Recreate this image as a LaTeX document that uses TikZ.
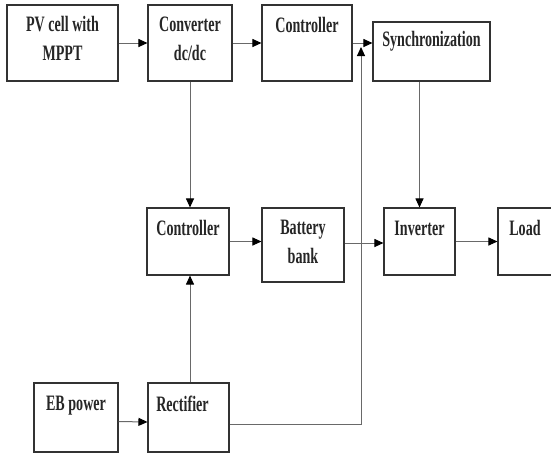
\documentclass[tikz,border=0pt]{standalone}
\usepackage{fontspec}
\setmainfont{Liberation Serif}[FakeStretch=0.64]
\usetikzlibrary{arrows.meta}
\definecolor{edgeGray}{RGB}{50, 50, 50}
\definecolor{wireGray}{RGB}{105, 105, 105}

\tikzset{
  blk/.style={draw=edgeGray, line width=1.1pt, rectangle, inner sep=0pt},
  lbl/.style={anchor=north, inner sep=0pt, align=center, yshift=-13pt,
    font=\fontsize{22}{29}\selectfont\bfseries, text=black!85},
  wire/.style={draw=wireGray, line width=1pt,
    -{Triangle[length=9pt,width=8pt,color=black]}},
}

\begin{document}
\begin{tikzpicture}[x=1pt, y=-1pt]
        \clip (0,0) rectangle (551,456);
        \fill[white] (0,0) rectangle (551,456);
        % top row
        \node[blk, minimum width=111, minimum height=76] (pv) at (62.5,43) {};
        \node[blk, minimum width=84, minimum height=76] (conv) at (190,43) {};
        \node[blk, minimum width=90, minimum height=76] (ctrlA) at (307,43) {};
        \node[blk, minimum width=117, minimum height=59] (sync) at (431.5,51.5) {};
        % middle row
        \node[blk, minimum width=82, minimum height=67] (ctrlB) at (188,241.5) {};
        \node[blk, minimum width=82, minimum height=74] (batt) at (303,245) {};
        \node[blk, minimum width=71, minimum height=67] (inv) at (419.5,241.5) {};
        \node[blk, minimum width=58, minimum height=67] (load) at (527,241.5) {};
        % bottom row
        \node[blk, minimum width=84, minimum height=69] (eb) at (76,417.5) {};
        \node[blk, minimum width=81, minimum height=69] (rect) at (188.5,417.5) {};

        \node[lbl, yshift=1pt] (pvT) at (pv.north) {PV cell with\\MPPT};
        \node[lbl, yshift=1pt] (convT) at (conv.north) {Converter\\dc/dc};
        \node[lbl] (ctrlAT) at (ctrlA.north) {Controller};
        \node[lbl, yshift=3pt] (syncT) at (sync.north) {Synchronization};
        \node[lbl] (ctrlBT) at (ctrlB.north) {Controller};
        \node[lbl, yshift=1pt] (battT) at (batt.north) {Battery\\bank};
        \node[lbl] (invT) at (inv.north) {Inverter};
        \node[lbl, xshift=-2pt] (loadT) at (load.north) {Load};
        \node[lbl] (ebT) at (eb.north) {EB power};
        \node[lbl, xshift=-6pt] (rectT) at (rect.north) {Rectifier};

        \coordinate (tap) at (361,47);

        % connectors
        \draw[wire] (pv.east) -- (conv.west);
        \draw[wire] (conv.east) -- (ctrlA.west);
        \draw[wire] (ctrlA.east) -- (ctrlA.east -| sync.west);
        \draw[wire] (conv.south) -- (conv.south |- ctrlB.north);
        \draw[wire] (rect.north -| conv.south) -- (conv.south |- ctrlB.south);
        \draw[wire] (ctrlB.east) -- (ctrlB.east -| batt.west);
        \draw[wire] ([yshift=-1.5pt]batt.east |- inv.west) -- ([yshift=-1.5pt]inv.west);
        \draw[wire] (inv.east) -- (inv.east -| load.west);
        \draw[wire] (sync.south -| inv.north) -- (inv.north);
        \draw[wire] ([yshift=-4pt]eb.east) -- ([yshift=-4.5pt]rect.west);
        \draw[wire] ([yshift=-6.5pt]rect.east) -| (tap);
      \end{tikzpicture}
\end{document}
